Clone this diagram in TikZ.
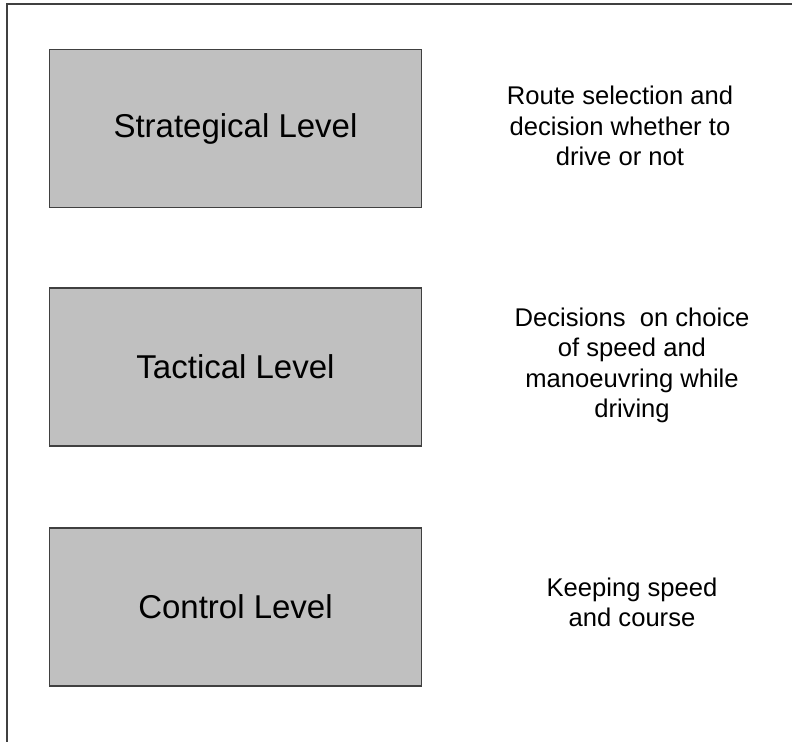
\documentclass[tikz,border=0pt]{standalone}
\usepackage{fontspec}
\setmainfont{Liberation Sans}
\definecolor{boxfill}{HTML}{C0C0C0}
\definecolor{boxline}{HTML}{404040}
\begin{document}
\begin{tikzpicture}[x=1pt,y=-1pt,
  levelbox/.style={draw=boxline,line width=1.4pt,fill=boxfill,minimum width=372pt,minimum height=158pt,inner sep=0pt,font=\fontsize{33}{40}\selectfont},
  desc/.style={align=center,inner sep=0pt,font=\fontsize{25.6}{30.5}\selectfont}]
\useasboundingbox (0,0) rectangle (792,742);
\coordinate (tl) at (7,4);
\coordinate (tr) at (792,4);
\coordinate (bl) at (7,742);
\draw[boxline,line width=1.6pt] (tr) -- (tl) -- (bl);
\node[levelbox] (s) at (235.5,128.5) {Strategical Level};
\node[levelbox] (t) at (235.5,367) {Tactical Level};
\node[levelbox] (c) at (235.5,607) {Control Level};
\node[desc] (sd) at (620,126) {Route selection and\\decision whether to\\drive or not};
\node[desc] (td) at (632,365.5) {Decisions\ \ on choice\\of speed and\\manoeuvring while\\driving};
\node[desc] (cd) at (632,602.5) {Keeping speed\\and course};
\end{tikzpicture}
\end{document}
